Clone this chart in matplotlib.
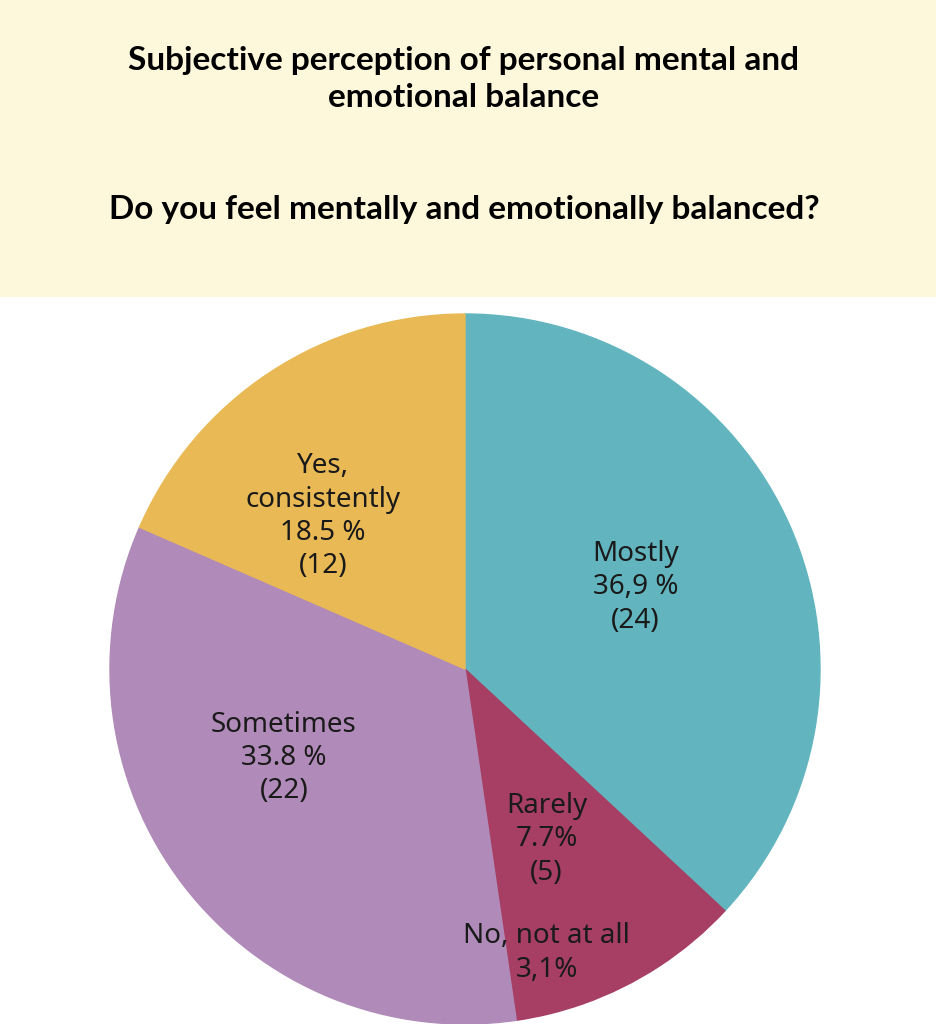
import matplotlib
matplotlib.use("Agg")
import matplotlib.pyplot as plt
from matplotlib.patches import Rectangle

categories = ["Mostly", "Rarely", "No, not at all", "Sometimes", "Yes, consistently"]
counts = [24, 5, 2, 22, 12]
label_texts = ["Mostly\n36,9 %\n(24)", "Rarely\n7.7%\n(5)", "No, not at all\n3,1%",
               "Sometimes\n33.8 %\n(22)", "Yes,\nconsistently\n18.5 %\n(12)"]
colors = ["#62B5BF", "#A63F63", "#A63F63", "#B08AB8", "#E9B955"]
label_pos = [(0.48, 0.23), (0.23, -0.48), (0.23, -0.80), (-0.51, -0.25), (-0.40, 0.43)]

fig = plt.figure(figsize=(9.37, 10.24), dpi=100)
fig.patches.append(Rectangle((0, 0.71), 1, 0.29, transform=fig.transFigure,
                             facecolor="#FDF8DC", edgecolor="none", zorder=0))
fig.text(0.495, 0.923, "Subjective perception of personal mental and\nemotional balance",
         ha="center", va="center", fontsize=24, fontweight="bold", family="Lato",
         linespacing=1.35)
fig.text(0.495, 0.795, "Do you feel mentally and emotionally balanced?",
         ha="center", va="center", fontsize=24, fontweight="bold", family="Lato")

ax = fig.add_axes([110/937, 0.0, 710/937, 710/1024])
wedges, _ = ax.pie(counts, colors=colors, startangle=90, counterclock=False)
for w, c in zip(wedges, colors):
    w.set_edgecolor(c)
    w.set_linewidth(1)
ax.set_xlim(-1, 1); ax.set_ylim(-1, 1)
ax.set_aspect("equal")
ax.axis("off")
for t, (x, y) in zip(label_texts, label_pos):
    ax.text(x, y, t, ha="center", va="center", fontsize=20, color="#1a1a1a",
            family="Noto Sans", linespacing=1.25)
fig.savefig("out.png", dpi=100)
